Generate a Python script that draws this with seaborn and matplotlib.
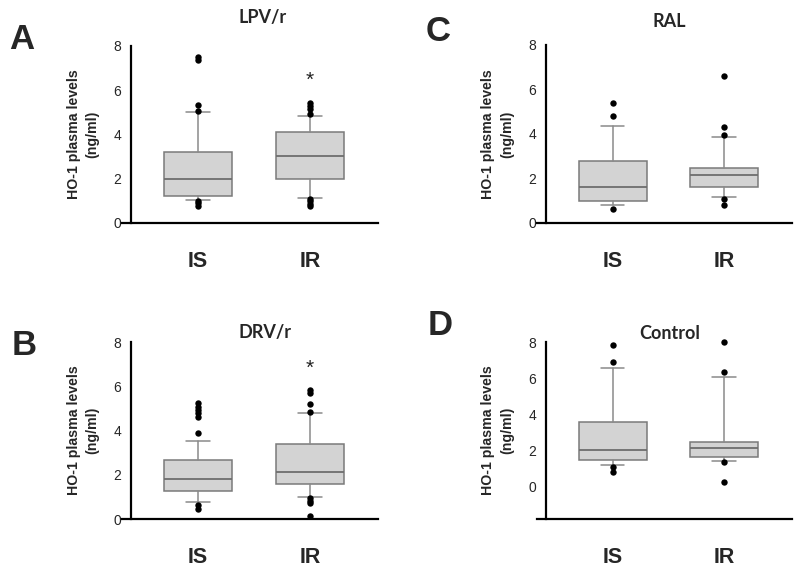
import numpy as np
import pandas as pd
import seaborn as sns
import matplotlib.pyplot as plt

sns.set_style("white")
plt.rcParams['font.family'] = ['Liberation Sans', 'DejaVu Sans']

groups = ["IS", "IR"]
panels = ["A", "B", "C", "D"]
titles = ["LPV/r", "DRV/r", "RAL", "Control"]

# box statistics, one pair [IS, IR] per panel
whislo = {"A": [1.04, 1.13], "B": [0.77, 1.01], "C": [0.81, 1.18], "D": [1.23, 1.42]}
q1 = {"A": [1.22, 1.97], "B": [1.28, 1.58], "C": [1.01, 1.63], "D": [1.49, 1.67]}
med = {"A": [1.99, 3.02], "B": [1.80, 2.14], "C": [1.60, 2.16], "D": [2.04, 2.15]}
q3 = {"A": [3.22, 4.12], "B": [2.68, 3.39], "C": [2.80, 2.49], "D": [3.58, 2.49]}
whishi = {"A": [5.03, 4.85], "B": [3.53, 4.81], "C": [4.37, 3.85], "D": [6.58, 6.08]}

# outlying points
out_IS = {
    "A": [7.52, 7.35, 5.32, 5.05, 1.0, 0.9, 0.78],
    "B": [5.23, 5.08, 4.93, 4.78, 4.63, 3.9, 0.63, 0.47],
    "C": [5.41, 4.81, 0.61],
    "D": [7.85, 6.92, 1.12, 0.82],
}
out_IR = {
    "A": [5.42, 5.3, 5.16, 4.94, 1.1, 0.98, 0.88, 0.78],
    "B": [5.84, 5.7, 5.19, 4.84, 0.93, 0.83, 0.72, 0.15],
    "C": [6.61, 4.3, 3.94, 1.06, 0.8],
    "D": [7.98, 6.32, 1.38, 0.28],
}
# significance stars above IR
stars = {"A": 6.45, "B": 6.8}

# axes placement (fig fraction) and y limits
boxes = {
    "A": [0.1525, 0.6095, 0.32, 0.31],
    "C": [0.671, 0.6095, 0.319, 0.3117],
    "B": [0.1525, 0.091, 0.32, 0.31],
    "D": [0.671, 0.091, 0.319, 0.31],
}
ylims = {"A": (0, 8), "B": (0, 8), "C": (0, 8), "D": (-1.77, 8)}
letter_pos = {"A": (0.012, 0.93), "C": (0.532, 0.945), "B": (0.015, 0.395), "D": (0.535, 0.43)}
# title anchor: x in data units, y in axes fraction
title_pos = {"A": (0.58, 1.158), "B": (0.60, 1.056), "C": (0.51, 1.13), "D": (0.51, 1.05)}

fig = plt.figure(figsize=(8, 5.71), dpi=100)

for p, title in zip(panels, titles):
    ax = fig.add_axes(boxes[p])
    stats = []
    for i, g in enumerate(groups):
        stats.append({"whislo": whislo[p][i], "q1": q1[p][i], "med": med[p][i],
                      "q3": q3[p][i], "whishi": whishi[p][i], "fliers": [], "label": g})
    ax.bxp(stats, positions=[0, 1], widths=0.61, capwidths=0.21, patch_artist=True,
           showfliers=False,
           boxprops=dict(facecolor="#d3d3d3", edgecolor="#7a7a7a", linewidth=1.1),
           medianprops=dict(color="#6e6e6e", linewidth=1.3),
           whiskerprops=dict(color="#8a8a8a", linewidth=1.1),
           capprops=dict(color="#8a8a8a", linewidth=1.1))

    df = pd.DataFrame({
        "group": ["IS"] * len(out_IS[p]) + ["IR"] * len(out_IR[p]),
        "value": out_IS[p] + out_IR[p],
    })
    sns.stripplot(data=df, x="group", y="value", order=groups, jitter=False,
                  color="black", size=4.6, ax=ax, zorder=5, clip_on=False)

    if p in stars:
        ax.text(1, stars[p], "*", ha="center", va="center", fontsize=15, color="#222222")

    ax.set_xlim(-0.68, 1.61)
    ax.set_ylim(*ylims[p])
    ax.set_yticks([0, 2, 4, 6, 8], labels=["0", "2", "4", "6", "8"],
                  fontsize=10.5, fontweight="bold")
    ax.set_xticks([0, 1], labels=groups, fontsize=15.5, fontweight="bold")
    ax.tick_params(axis="x", length=0, pad=20)
    ax.tick_params(axis="y", length=5, width=1.5, direction="out", pad=2)
    ax.set_xlabel("")
    ax.set_ylabel("HO-1 plasma levels\n(ng/ml)", fontsize=10.2, fontweight="bold",
                  labelpad=10, linespacing=1.45)

    ax.spines["top"].set_visible(False)
    ax.spines["right"].set_visible(False)
    ax.spines["left"].set_position(("data", -0.6))
    ax.spines["left"].set_linewidth(1.6)
    ax.spines["bottom"].set_linewidth(1.6)
    ax.spines["left"].set_color("black")
    ax.spines["bottom"].set_color("black")
    ax.spines["left"].set_bounds(ylims[p][0], 8)
    ax.grid(False)

    tx, ty = title_pos[p]
    ax.text(tx, ty, title, transform=ax.get_xaxis_transform(), ha="center", va="center",
            fontsize=13, fontweight="bold", family=["Lato", "DejaVu Sans"])
    fig.text(*letter_pos[p], p, fontsize=25, fontweight="bold", ha="left", va="center")

fig.savefig("out.png", dpi=100)
